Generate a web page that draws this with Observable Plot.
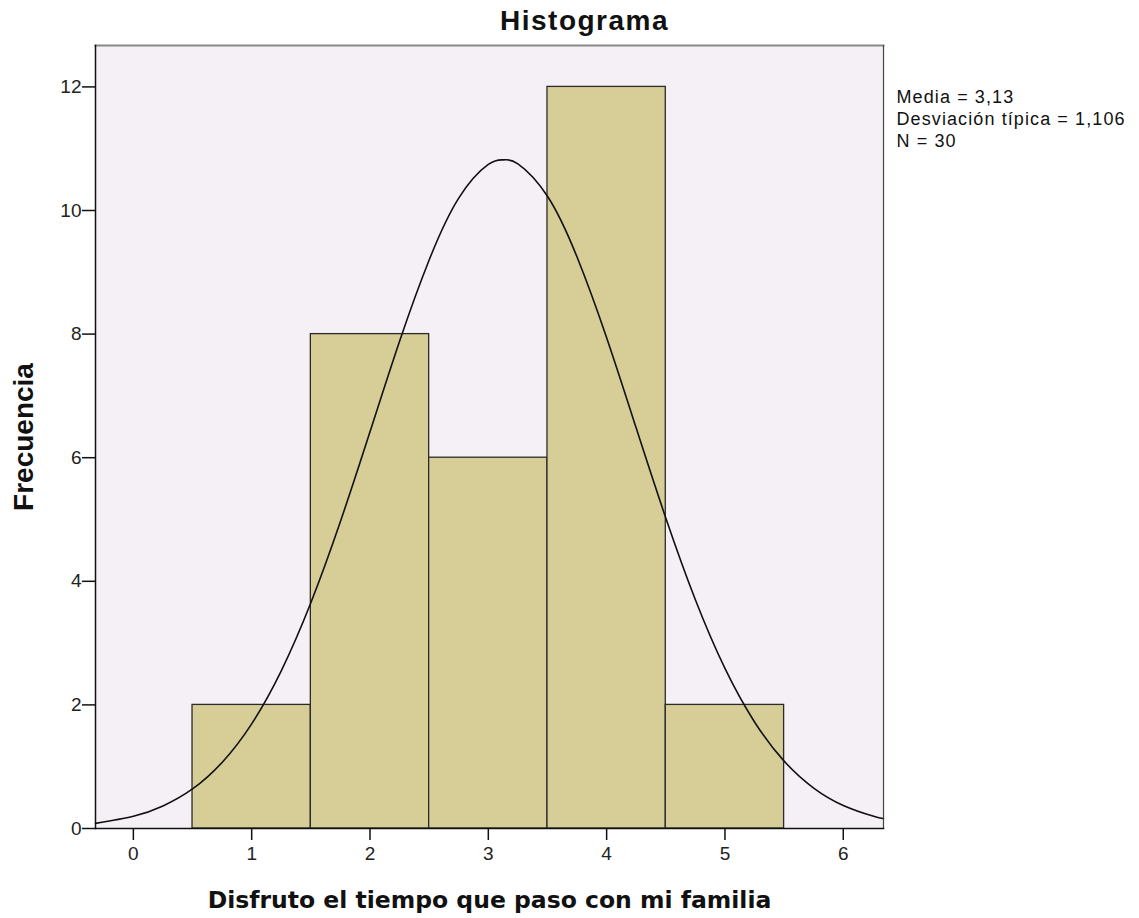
<!DOCTYPE html>
<html>
<head>
<meta charset="utf-8">
<script src="https://cdn.jsdelivr.net/npm/d3@7"></script>
<script src="https://cdn.jsdelivr.net/npm/@observablehq/plot@0.6"></script>
<style>
  html, body { margin: 0; padding: 0; background: #ffffff; }
  #chart svg { display: block; }
  .ttl text { letter-spacing: 1.5px; }
  .stats text { letter-spacing: 1.1px; }
</style>
</head>
<body>
<div id="chart"></div>
<script>
// Histogram bins (value centres) and frequencies
const binCenters = [1, 2, 3, 4, 5];
const counts = [2, 8, 6, 12, 2];
// Fitted normal curve points
const curveX = [-0.32, 0, 0.25, 0.5, 0.75, 1, 1.25, 1.5, 1.75, 2, 2.25, 2.5, 2.75, 3, 3.13, 3.25, 3.5, 3.75, 4, 4.25, 4.5, 4.75, 5, 5.25, 5.5, 5.75, 6, 6.25, 6.34];
const curveY = [0.083, 0.197, 0.365, 0.640, 1.069, 1.693, 2.551, 3.652, 4.967, 6.419, 7.885, 9.199, 10.200, 10.745, 10.82, 10.756, 10.231, 9.247, 7.941, 6.479, 5.024, 3.701, 2.590, 1.724, 1.090, 0.654, 0.373, 0.202, 0.160];
const xTicks = [0, 1, 2, 3, 4, 5, 6];
const yTicks = [0, 2, 4, 6, 8, 10, 12];
const statsLines = ["Media = 3,13", "Desviación típica = 1,106", "N = 30"];

const bars = binCenters.map((c, i) => ({x1: c - 0.5, x2: c + 0.5, y: counts[i]}));
const curve = curveX.map((x, i) => ({x, y: curveY[i]}));

const chart = Plot.plot({
  width: 1139,
  height: 918,
  marginLeft: 95,
  marginRight: 256,
  marginTop: 45,
  marginBottom: 90,
  style: {fontFamily: "Liberation Sans, Arial, sans-serif", background: "#ffffff"},
  x: {domain: [-0.32, 6.34], ticks: xTicks, label: null},
  y: {domain: [0, 12.67], ticks: yTicks, label: null},
  marks: [
    Plot.frame({fill: "#f5f0f5", stroke: null}),
    Plot.rectY(bars, {x1: "x1", x2: "x2", y: "y", fill: "#d6cd97", stroke: "#2b2b2b", strokeWidth: 1.3}),
    Plot.line(curve, {x: "x", y: "y", stroke: "#111", strokeWidth: 1.6, curve: "natural"}),
    Plot.frame({anchor: "top", stroke: "#888", strokeWidth: 2}),
    Plot.frame({anchor: "right", stroke: "#444", strokeWidth: 1.2}),
    Plot.frame({anchor: "left", stroke: "#111", strokeWidth: 1.5}),
    Plot.frame({anchor: "bottom", stroke: "#111", strokeWidth: 1.5}),
    Plot.axisX({ticks: xTicks, tickSize: 12, tickPadding: 6, fontSize: 19, stroke: "#111", strokeWidth: 1.5, color: "#222", tickFormat: d => d, label: null}),
    Plot.axisY({ticks: yTicks, tickSize: 13, tickPadding: 1, fontSize: 19, stroke: "#111", strokeWidth: 1.5, color: "#222", tickFormat: d => d, label: null}),
    Plot.text(["Histograma"], {className: "ttl", frameAnchor: "top", dx: 95, dy: -24, lineAnchor: "middle", fontSize: 28, fontWeight: "bold", fill: "#111", fontFamily: "Liberation Sans, Arial, sans-serif"}),
    Plot.text(["Frecuencia"], {frameAnchor: "left", dx: -71, rotate: -90, textAnchor: "middle", lineAnchor: "middle", fontSize: 28, fontWeight: "bold", fill: "#111", fontFamily: "Liberation Sans, Arial, sans-serif"}),
    Plot.text(["Disfruto el tiempo que paso con mi familia"], {frameAnchor: "bottom", dy: 72, lineAnchor: "middle", fontSize: 23.5, fontWeight: "bold", fill: "#111", fontFamily: "DejaVu Sans, sans-serif"}),
    Plot.text([statsLines.join("\n")], {className: "stats", frameAnchor: "top-right", dx: 13, dy: 42, textAnchor: "start", lineAnchor: "top", lineHeight: 1.22, fontSize: 18, fill: "#111", fontFamily: "Liberation Sans, Arial, sans-serif"})
  ]
});
document.getElementById("chart").appendChild(chart);
</script>
</body>
</html>
